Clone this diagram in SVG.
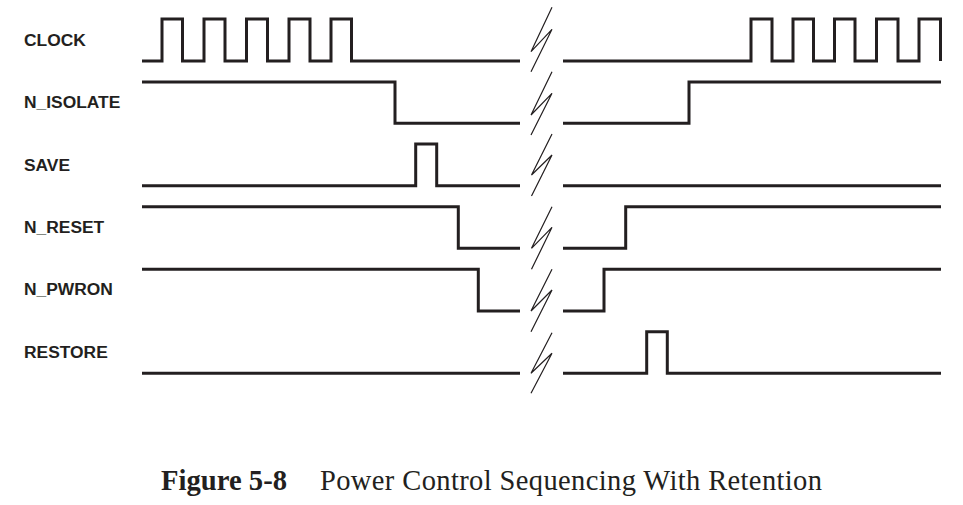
<svg xmlns="http://www.w3.org/2000/svg" width="963" height="505" viewBox="0 0 963 505">
<style>
.sig{fill:none;stroke:#231f20;stroke-width:3;stroke-linejoin:miter;stroke-linecap:butt}
.brk{fill:none;stroke:#231f20;stroke-width:1.2;stroke-linejoin:miter}
.lbl{font-family:"Liberation Sans",Arial,sans-serif;font-weight:bold;font-size:17.4px;fill:#231f20}
.cap{font-family:"Liberation Serif","Times New Roman",serif;font-size:28.5px;fill:#231f20}
</style>
<rect width="963" height="505" fill="#ffffff"/>
<g id="clock">
<text class="lbl" x="24" y="45.7">CLOCK</text>
<path class="sig" d="M142,61 H162 V19 H182.5 V61 H204 V19 H225 V61 H246.5 V19 H267.5 V61 H289 V19 H310 V61 H331 V19 H351.5 V61 H520"/>
<path class="sig" d="M563,61 H751 V19 H772 V61 H793 V19 H813.5 V61 H834.5 V19 H855 V61 H876.5 V19 H898 V61 H919 V19 H940.5 V61"/>
</g>
<g id="n_isolate">
<text class="lbl" x="24" y="108.3">N_ISOLATE</text>
<path class="sig" d="M142,82 H395 V123.3 H520"/>
<path class="sig" d="M563,123.3 H689 V82 H941"/>
</g>
<g id="save">
<text class="lbl" x="24" y="170.7">SAVE</text>
<path class="sig" d="M142,185.7 H415.7 V144 H436.7 V185.7 H520"/>
<path class="sig" d="M563,185.7 H941"/>
</g>
<g id="n_reset">
<text class="lbl" x="24" y="232.7">N_RESET</text>
<path class="sig" d="M142,206.7 H458.3 V248.3 H520"/>
<path class="sig" d="M563,248.3 H625.7 V206.7 H941"/>
</g>
<g id="n_pwron">
<text class="lbl" x="24" y="295.3">N_PWRON</text>
<path class="sig" d="M142,269.3 H478.3 V311 H520"/>
<path class="sig" d="M563,311 H604 V269.3 H941"/>
</g>
<g id="restore">
<text class="lbl" x="24" y="358.3">RESTORE</text>
<path class="sig" d="M142,373.3 H520"/>
<path class="sig" d="M563,373.3 H646.7 V331.7 H667.3 V373.3 H941"/>
</g>
<g id="connectors">
<polyline class="brk" points="552,7.3 531,51.7 552,29.3 531,71.7"/>
<polyline class="brk" points="552,71.7 531,115 552,93.3 531,135"/>
<polyline class="brk" points="552,134 531.5,175 552,155 531.5,196"/>
<polyline class="brk" points="552,206.7 531.5,248.3 552,227.3 531.5,269.3"/>
<polyline class="brk" points="552,269.3 531,311 552,290 531,331.7"/>
<polyline class="brk" points="552,332.7 531,373.3 552,353.3 531,393.3"/>
</g>
<g id="caption">
<text class="cap" x="161" y="490" font-weight="bold" textLength="126" lengthAdjust="spacingAndGlyphs">Figure 5-8</text>
<text class="cap" x="320" y="490" textLength="502" lengthAdjust="spacing">Power Control Sequencing With Retention</text>
</g>
</svg>
